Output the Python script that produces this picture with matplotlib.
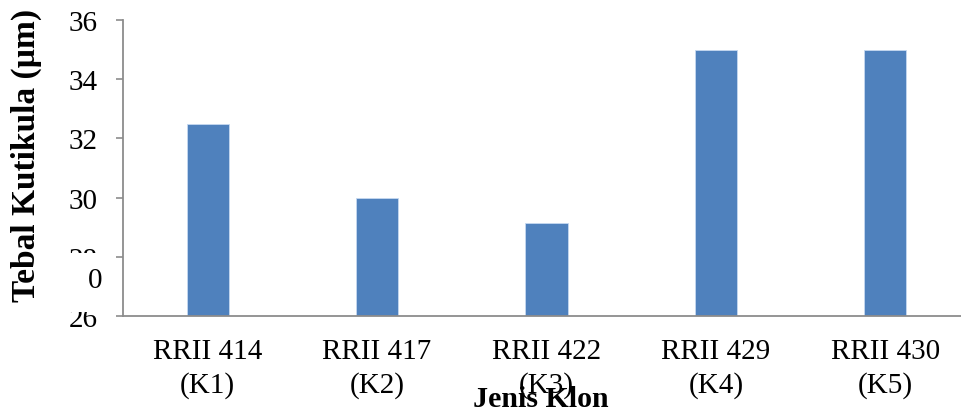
import matplotlib
matplotlib.use("Agg")
import matplotlib.pyplot as plt

# Cuticle thickness per rubber clone
clones = ["RRII 414\n(K1)", "RRII 417\n(K2)", "RRII 422\n(K3)", "RRII 429\n(K4)", "RRII 430\n(K5)"]
thickness = [32.5, 30.0, 29.15, 35.0, 35.0]
yticks = [26, 28, 30, 32, 34, 36]

plt.rcParams["font.family"] = ["Liberation Serif", "DejaVu Serif"]

fig = plt.figure(figsize=(9.61, 4.10), dpi=100)
ax = fig.add_axes([123 / 961, 93 / 410, 847 / 961, 296 / 410])

x = range(len(clones))
ax.bar(x, thickness, width=0.248, color="#4F81BD", edgecolor="#C6D9F1", linewidth=0.6, zorder=2)

ax.set_xlim(-0.5, len(clones) - 0.5)
ax.set_ylim(26, 36)
ax.set_yticks(yticks)
ax.set_yticklabels([str(t) for t in yticks], fontsize=21)
ax.set_xticks(list(x))
ax.set_xticklabels(clones, fontsize=21, linespacing=1.32)

for side in ("top", "right"):
    ax.spines[side].set_visible(False)
for side in ("left", "bottom"):
    ax.spines[side].set_color("#8C8C8C")
    ax.spines[side].set_linewidth(1.3)

ax.tick_params(axis="y", length=5, width=1.2, color="#8C8C8C", pad=13)
ax.tick_params(axis="x", length=0, pad=16)

fig.text(26 / 961, 1 - 155 / 410, "Tebal Kutikula (µm)", rotation=90,
         fontsize=24, fontweight="bold", ha="center", va="center")
fig.text(541 / 961, 1 - 400 / 410, "Jenis Klon", fontsize=21.5,
         fontweight="bold", ha="center", va="center")

# white label box over the lower y tick labels
fig.patches.append(plt.Rectangle((68 / 961, 1 - 313 / 410), 45 / 961, 59 / 410,
                                 transform=fig.transFigure, facecolor="white",
                                 edgecolor="none", zorder=5))
fig.text(95 / 961, 1 - 281 / 410, "0", fontsize=21, ha="center", va="center", zorder=6)

fig.savefig("out.png", dpi=100)
